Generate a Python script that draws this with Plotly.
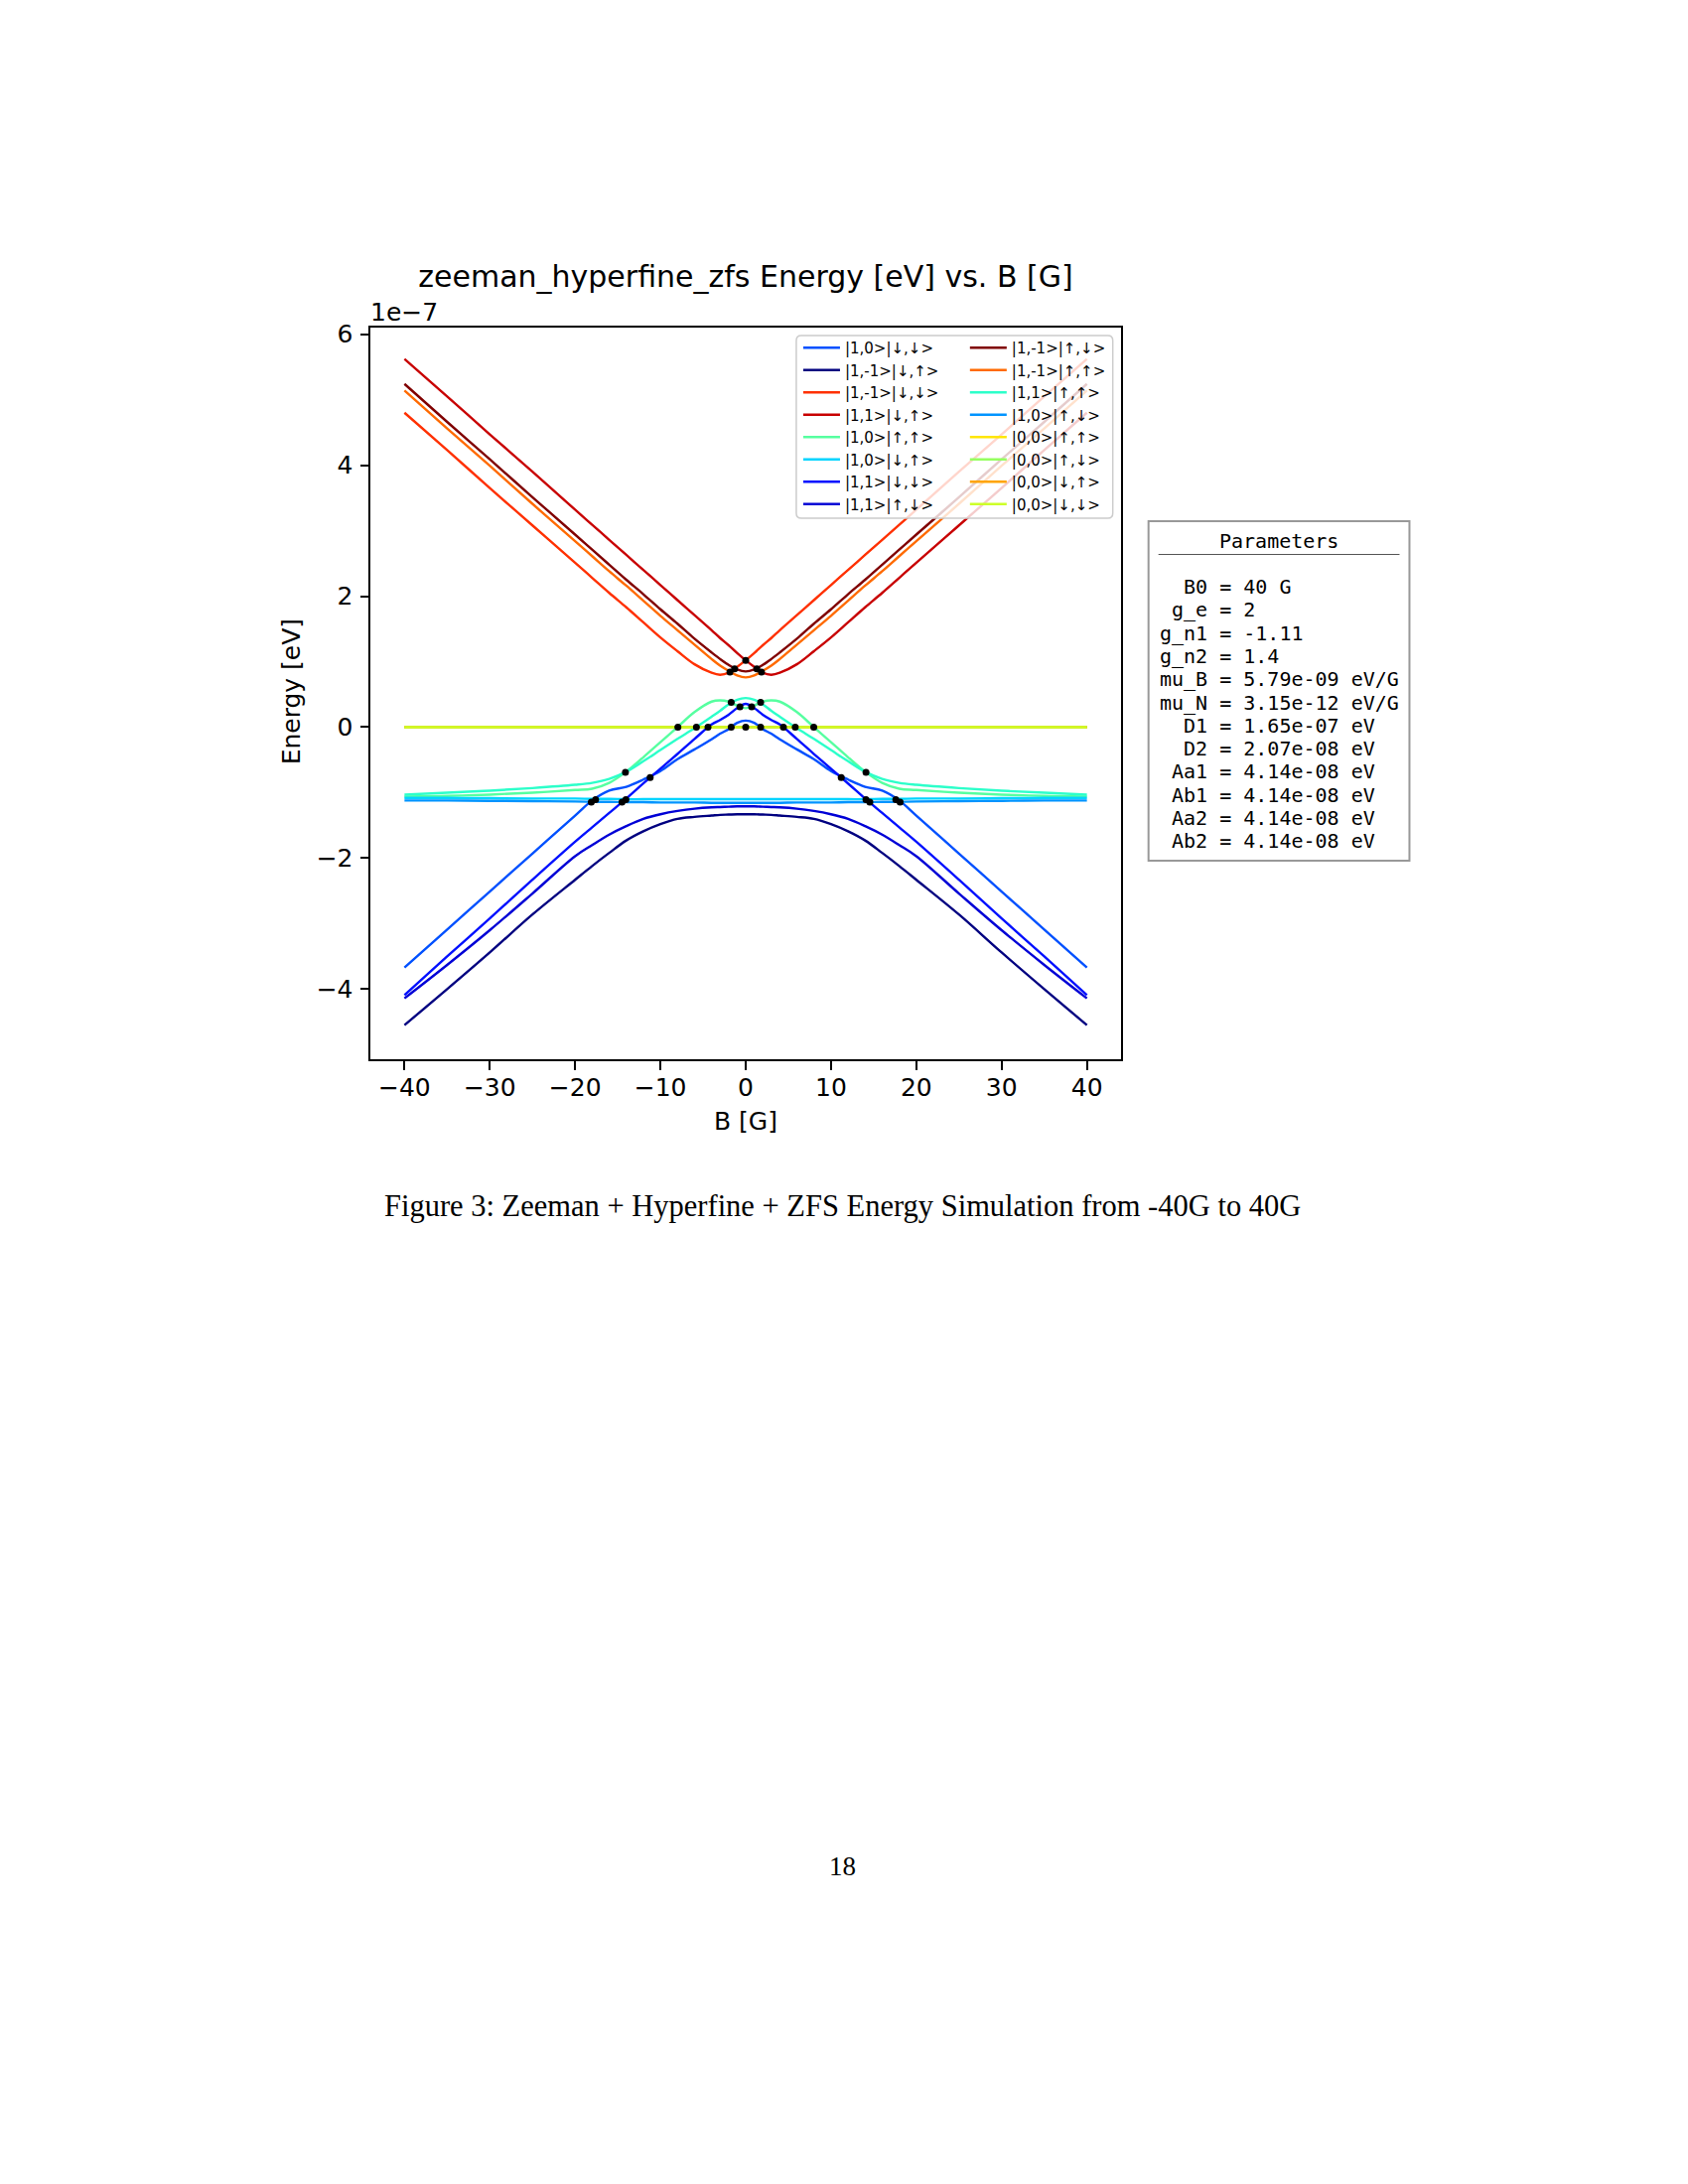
import plotly.graph_objects as go

# ---------------- data (energies in units of 1e-7 eV) ----------------
B = [-40, -35, -30, -25, -20, -18, -16, -14, -12, -10, -8, -6, -4, -3, -2, -1, 0,
     1, 2, 3, 4, 6, 8, 10, 12, 14, 16, 18, 20, 25, 30, 35, 40]

E_10_dd = [-3.67, -3.09, -2.51, -1.93, -1.35, -1.12, -0.97, -0.91, -0.80, -0.67, -0.49, -0.34, -0.185, -0.10, -0.03, 0.065, 0.10,
           0.065, -0.03, -0.10, -0.185, -0.34, -0.49, -0.67, -0.80, -0.91, -0.97, -1.12, -1.35, -1.93, -2.51, -3.09, -3.67]
E_1m1_du = [-4.55, -4.00, -3.44, -2.86, -2.33, -2.12, -1.92, -1.73, -1.59, -1.48, -1.40, -1.37, -1.35, -1.34, -1.335, -1.33, -1.33,
            -1.33, -1.335, -1.34, -1.35, -1.37, -1.40, -1.48, -1.59, -1.73, -1.92, -2.12, -2.33, -2.86, -3.44, -4.00, -4.55]
E_1m1_dd = [4.80, 4.23, 3.65, 3.08, 2.51, 2.28, 2.05, 1.83, 1.60, 1.37, 1.16, 0.96, 0.83, 0.80, 0.83, 0.92, 1.02,
            1.13, 1.25, 1.36, 1.48, 1.71, 1.94, 2.17, 2.40, 2.63, 2.86, 3.09, 3.32, 3.90, 4.47, 5.05, 5.62]
E_11_du = [5.62, 5.05, 4.47, 3.90, 3.32, 3.09, 2.86, 2.63, 2.40, 2.17, 1.94, 1.71, 1.48, 1.36, 1.25, 1.13, 1.02,
           0.92, 0.83, 0.80, 0.83, 0.96, 1.16, 1.37, 1.60, 1.83, 2.05, 2.28, 2.51, 3.08, 3.65, 4.23, 4.80]
E_10_uu = [-1.06, -1.05, -1.03, -1.00, -0.96, -0.94, -0.85, -0.68, -0.46, -0.23, 0.0, 0.23, 0.39, 0.41, 0.39, 0.33, 0.29,
           0.33, 0.39, 0.41, 0.39, 0.23, 0.0, -0.23, -0.46, -0.68, -0.85, -0.94, -0.96, -1.00, -1.03, -1.05, -1.06]
E_10_du = [-1.08, -1.08, -1.085, -1.09, -1.09, -1.095, -1.095, -1.10, -1.10, -1.10, -1.10, -1.10, -1.10, -1.10, -1.10, -1.10, -1.10,
           -1.10, -1.10, -1.10, -1.10, -1.10, -1.10, -1.10, -1.10, -1.10, -1.095, -1.095, -1.09, -1.09, -1.085, -1.08, -1.08]
E_11_dd = [-4.09, -3.50, -2.92, -2.33, -1.75, -1.53, -1.31, -1.09, -0.86, -0.635, -0.41, -0.18, 0.04, 0.11, 0.19, 0.29, 0.355,
           0.29, 0.19, 0.11, 0.04, -0.18, -0.41, -0.635, -0.86, -1.09, -1.31, -1.53, -1.75, -2.33, -2.92, -3.50, -4.09]
E_11_ud = [-4.14, -3.63, -3.10, -2.54, -1.97, -1.80, -1.64, -1.51, -1.40, -1.33, -1.28, -1.245, -1.225, -1.22, -1.215, -1.21, -1.21,
           -1.21, -1.215, -1.22, -1.225, -1.245, -1.28, -1.33, -1.40, -1.51, -1.64, -1.80, -1.97, -2.54, -3.10, -3.63, -4.14]
E_1m1_ud = [5.24, 4.66, 4.09, 3.51, 2.94, 2.71, 2.48, 2.25, 2.03, 1.80, 1.58, 1.35, 1.14, 1.04, 0.95, 0.88, 0.85,
            0.88, 0.95, 1.04, 1.14, 1.35, 1.58, 1.80, 2.03, 2.25, 2.48, 2.71, 2.94, 3.51, 4.09, 4.66, 5.24]
E_1m1_uu = [5.14, 4.56, 3.99, 3.41, 2.84, 2.61, 2.38, 2.16, 1.93, 1.70, 1.48, 1.26, 1.04, 0.94, 0.86, 0.79, 0.76,
            0.79, 0.86, 0.94, 1.04, 1.26, 1.48, 1.70, 1.93, 2.16, 2.38, 2.61, 2.84, 3.41, 3.99, 4.56, 5.14]
E_11_uu = [-1.03, -1.00, -0.97, -0.93, -0.88, -0.85, -0.79, -0.68, -0.52, -0.35, -0.18, -0.015, 0.16, 0.25, 0.35, 0.42, 0.445,
           0.42, 0.35, 0.25, 0.16, -0.015, -0.18, -0.35, -0.52, -0.68, -0.79, -0.85, -0.88, -0.93, -0.97, -1.00, -1.03]
E_10_ud = [-1.12, -1.12, -1.125, -1.13, -1.135, -1.14, -1.14, -1.145, -1.145, -1.15, -1.15, -1.15, -1.155, -1.155, -1.155, -1.155, -1.155,
           -1.155, -1.155, -1.155, -1.155, -1.15, -1.15, -1.15, -1.145, -1.145, -1.14, -1.14, -1.135, -1.13, -1.125, -1.12, -1.12]
B_flat = [-40, 40]
E_00_uu = [0.0, 0.0]
E_00_ud = [0.0, 0.0]
E_00_du = [0.0, 0.0]
E_00_dd = [0.0, 0.0]

DOT_B = [0.0, -1.3, 1.3, -1.85, 1.85, -1.7, 1.75, -0.68, 0.7,
         -7.95, -5.78, -4.42, -1.7, 0.0, 1.75, 4.42, 5.81, 7.98,
         -14.1, 14.1, -11.2, 11.2,
         -18.1, -17.6, -14.5, -14.05, 14.1, 14.55, 17.6, 18.1]
DOT_E = [1.02, 0.89, 0.89, 0.84, 0.84, 0.38, 0.38, 0.31, 0.31,
         0, 0, 0, 0, 0, 0, 0, 0, 0,
         -0.69, -0.69, -0.77, -0.77,
         -1.145, -1.105, -1.145, -1.105, -1.105, -1.145, -1.105, -1.145]

LABELS_COL1 = ["|1,0>|↓,↓>", "|1,-1>|↓,↑>", "|1,-1>|↓,↓>", "|1,1>|↓,↑>",
               "|1,0>|↑,↑>", "|1,0>|↓,↑>", "|1,1>|↓,↓>", "|1,1>|↑,↓>"]
LABELS_COL2 = ["|1,-1>|↑,↓>", "|1,-1>|↑,↑>", "|1,1>|↑,↑>", "|1,0>|↑,↓>",
               "|0,0>|↑,↑>", "|0,0>|↑,↓>", "|0,0>|↓,↑>", "|0,0>|↓,↓>"]
COLORS_COL1 = ["#0050ff", "#000080", "#ff3000", "#c80000", "#56ffa0", "#00d4ff", "#0010ff", "#0000d6"]
COLORS_COL2 = ["#800000", "#ff6a00", "#2cffca", "#0094ff", "#ffe600", "#96ff60", "#ffa400", "#cdff29"]

PARAM_LINES = ["  B0 = 40 G", " g_e = 2", "g_n1 = -1.11", "g_n2 = 1.4",
               "mu_B = 5.79e-09 eV/G", "mu_N = 3.15e-12 eV/G",
               "  D1 = 1.65e-07 eV", "  D2 = 2.07e-08 eV",
               " Aa1 = 4.14e-08 eV", " Ab1 = 4.14e-08 eV",
               " Aa2 = 4.14e-08 eV", " Ab2 = 4.14e-08 eV"]

X_TICKS = [-40, -30, -20, -10, 0, 10, 20, 30, 40]
Y_TICKS = [-4, -2, 0, 2, 4, 6]

# ---------------- layout geometry ----------------
# positions below are page pixels on the 1700x2200 page; the html body has an 8px margin
OFF = 8
W_FIG, H_FIG = 1700 - 2 * OFF, 2200 - 2 * OFF
PL, PR, PT, PB = 372.7, 1129.3, 330.0, 1067.0
PW, PH = PR - PL, PB - PT


def px(xp):
    return (xp - PL) / PW


def py(yp):
    return (PB - yp) / PH


SANS = "DejaVu Sans"
MONO = "DejaVu Sans Mono"
SERIF = "Liberation Serif"


def minus(v):
    return str(v).replace("-", "\u2212")


fig = go.Figure()

col1_series = [E_10_dd, E_1m1_du, E_1m1_dd, E_11_du, E_10_uu, E_10_du, E_11_dd, E_11_ud]
col2_series = [E_1m1_ud, E_1m1_uu, E_11_uu, E_10_ud, E_00_uu, E_00_ud, E_00_du, E_00_dd]

LW = 2.4
for lab, col, ys in zip(LABELS_COL1, COLORS_COL1, col1_series):
    fig.add_trace(go.Scatter(x=B, y=ys, mode="lines", name=lab, legend="legend",
                             line=dict(color=col, width=LW, shape="spline", smoothing=1.0),
                             hoverinfo="skip"))
for i, (lab, col, ys) in enumerate(zip(LABELS_COL2, COLORS_COL2, col2_series)):
    xs = B if i < 4 else B_flat
    fig.add_trace(go.Scatter(x=xs, y=ys, mode="lines", name=lab, legend="legend2",
                             line=dict(color=col, width=LW, shape="spline", smoothing=1.0),
                             hoverinfo="skip"))

fig.add_trace(go.Scatter(x=DOT_B, y=DOT_E, mode="markers", showlegend=False,
                         marker=dict(color="black", size=7), hoverinfo="skip"))

# legend frame (matplotlib-style, semi-transparent white, rounded)
lx0, lx1, ly0, ly1 = px(802), px(1121), py(522), py(338)
rx, ry = 5 / PW, 5 / PH
legend_path = (f"M{lx0+rx},{ly1} L{lx1-rx},{ly1} Q{lx1},{ly1} {lx1},{ly1-ry} "
               f"L{lx1},{ly0+ry} Q{lx1},{ly0} {lx1-rx},{ly0} L{lx0+rx},{ly0} "
               f"Q{lx0},{ly0} {lx0},{ly0+ry} L{lx0},{ly1-ry} Q{lx0},{ly1} {lx0+rx},{ly1} Z")

shapes = [
    dict(type="path", path=legend_path, xref="paper", yref="paper", layer="above",
         fillcolor="rgba(255,255,255,0.8)", line=dict(color="#cccccc", width=1.5)),
    # parameters box
    dict(type="rect", xref="paper", yref="paper", x0=px(1157), x1=px(1420), y0=py(867), y1=py(525),
         fillcolor="white", line=dict(color="#999999", width=2)),
    dict(type="line", xref="paper", yref="paper", x0=px(1167), x1=px(1410), y0=py(558.5), y1=py(558.5),
         line=dict(color="#555555", width=1)),
]

annotations = [
    dict(text="1e\u22127", xref="paper", yref="paper", x=px(371), y=py(314), xanchor="left", yanchor="middle",
         showarrow=False, font=dict(family=SANS, size=25, color="black")),
    dict(text="Parameters", xref="paper", yref="paper", x=px(1288.5), y=py(545), xanchor="center", yanchor="middle",
         showarrow=False, font=dict(family=MONO, size=20, color="black")),
    dict(text="Figure 3: Zeeman + Hyperfine + ZFS Energy Simulation from -40G to 40G",
         xref="paper", yref="paper", x=px(849), y=py(1215), xanchor="center", yanchor="middle",
         showarrow=False, font=dict(family=SERIF, size=30.5, color="black")),
    dict(text="18", xref="paper", yref="paper", x=px(849), y=py(1880), xanchor="center", yanchor="middle",
         showarrow=False, font=dict(family=SERIF, size=27, color="black")),
    dict(text="B [G]", xref="paper", yref="paper", x=px(750.7), y=py(1129), xanchor="center", yanchor="middle",
         showarrow=False, font=dict(family=SANS, size=25, color="black")),
    dict(text="Energy [eV]", xref="paper", yref="paper", x=px(293), y=py(697), xanchor="center", yanchor="middle",
         textangle=-90, showarrow=False, font=dict(family=SANS, size=25, color="black")),
]
for i, line in enumerate(PARAM_LINES):
    annotations.append(dict(text=line.replace(" ", "\u00a0"), xref="paper", yref="paper",
                            x=px(1166.5), y=py(591 + 23.3 * i), xanchor="left", yanchor="middle",
                            showarrow=False, font=dict(family=MONO, size=20, color="black")))

axis_common = dict(showgrid=False, zeroline=False, showline=True, mirror=True, linecolor="black",
                   linewidth=2, ticks="outside", ticklen=8.5, tickwidth=2, tickcolor="black",
                   tickfont=dict(family=SANS, size=25, color="black"))

fig.update_layout(
    width=W_FIG, height=H_FIG,
    margin=dict(l=PL - OFF, r=(1700 - OFF) - PR, t=PT - OFF, b=(2200 - OFF) - PB, pad=0),
    paper_bgcolor="white", plot_bgcolor="white",
    title=dict(text="zeeman_hyperfine_zfs Energy [eV] vs. B [G]", x=(751 - OFF) / W_FIG, xanchor="center",
               y=1 - (278 - OFF) / H_FIG, yanchor="middle", xref="container", yref="container",
               font=dict(family=SANS, size=30, color="black")),
    xaxis=dict(range=[-44, 44], tickvals=X_TICKS, ticktext=[minus(v) for v in X_TICKS],
               ticklabelstandoff=-4, **axis_common),
    yaxis=dict(range=[-5.07, 6.1], tickvals=Y_TICKS, ticktext=[minus(v) for v in Y_TICKS],
               ticklabelstandoff=2, **axis_common),
    legend=dict(x=px(804), y=py(334), xanchor="left", yanchor="top", bgcolor="rgba(0,0,0,0)",
                borderwidth=0, tracegroupgap=0, itemwidth=37,
                font=dict(family=SANS, size=15, color="black")),
    legend2=dict(x=px(972), y=py(334), xanchor="left", yanchor="top", bgcolor="rgba(0,0,0,0)",
                 borderwidth=0, tracegroupgap=0, itemwidth=37,
                 font=dict(family=SANS, size=15, color="black")),
    shapes=shapes,
    annotations=annotations,
    showlegend=True,
)

fig.write_html("out.html")
